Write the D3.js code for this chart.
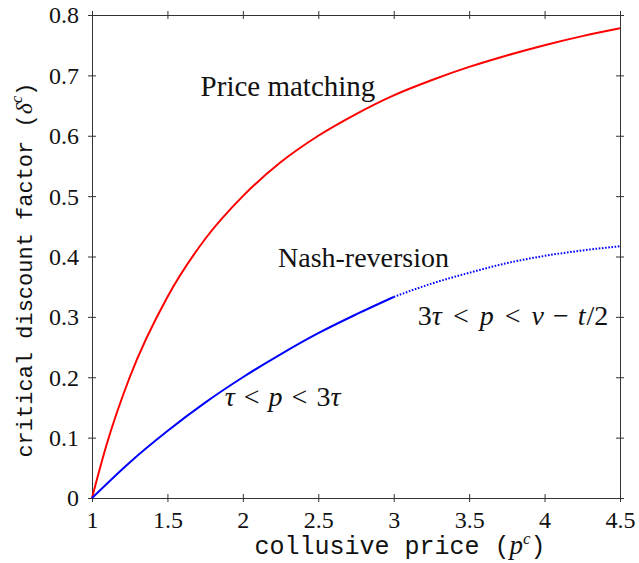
<!DOCTYPE html>
<html>
<head>
<meta charset="utf-8">
<script src="https://cdn.jsdelivr.net/npm/d3@7"></script>
<style>
  body { margin: 0; background: #fff; }
</style>
</head>
<body>
<div id="chart"></div>
<script>
var priceGrid = [1, 1.1, 1.25, 1.5, 1.75, 2, 2.25, 2.5, 2.75, 3, 3.25, 3.5, 3.75, 4, 4.25, 4.5];
var priceMatching = [0, 0.091, 0.2, 0.333, 0.429, 0.5, 0.556, 0.6, 0.636, 0.667, 0.692, 0.714, 0.733, 0.75, 0.765, 0.778];

var nashLowX = [1, 1.25, 1.5, 1.75, 2, 2.25, 2.5, 2.75, 3];
var nashLow = [0, 0.059, 0.111, 0.158, 0.2, 0.238, 0.273, 0.304, 0.333];

var nashHighX = [3, 3.25, 3.5, 3.75, 4, 4.25, 4.5];
var nashHigh = [0.333, 0.355, 0.373, 0.389, 0.401, 0.41, 0.417];

var xTicks = [1, 1.5, 2, 2.5, 3, 3.5, 4, 4.5];
var yTicks = [0, 0.1, 0.2, 0.3, 0.4, 0.5, 0.6, 0.7, 0.8];

var W = 639, H = 563;
var margin = { top: 15, right: 19, bottom: 65, left: 92 };
var SERIF = "Liberation Serif";
var MONO = "Liberation Mono";

var svg = d3.select("#chart").append("svg")
  .attr("width", W)
  .attr("height", H);

var x = d3.scaleLinear().domain([1, 4.5]).range([margin.left, W - margin.right]);
var y = d3.scaleLinear().domain([0, 0.8]).range([H - margin.bottom, margin.top]);

/*------------------ axes, ticks on all four sides ------------------*/
function fmt(d) { return d3.format("")(d); }

var gx = svg.append("g").attr("transform", "translate(0," + y(0) + ")")
  .call(d3.axisBottom(x).tickValues(xTicks).tickFormat(fmt).tickSize(4).tickPadding(0));
gx.attr("font-family", SERIF).attr("font-size", 24);
gx.selectAll("text")
  .attr("fill", "#111")
  .attr("dy", null)
  .attr("y", 30);

var gy = svg.append("g").attr("transform", "translate(" + x(1) + ",0)")
  .call(d3.axisLeft(y).tickValues(yTicks).tickFormat(fmt).tickSize(4).tickPadding(0));
gy.attr("font-family", SERIF).attr("font-size", 24);
gy.selectAll("text")
  .attr("fill", "#111")
  .attr("x", -13)
  .attr("dy", "0.33em");

// inward halves and the top / right sides
svg.append("g").attr("transform", "translate(0," + y(0) + ")")
  .call(d3.axisBottom(x).tickValues(xTicks).tickFormat("").tickSize(-4));
svg.append("g").attr("transform", "translate(0," + y(0.8) + ")")
  .call(d3.axisTop(x).tickValues(xTicks).tickFormat("").tickSize(4));
svg.append("g").attr("transform", "translate(0," + y(0.8) + ")")
  .call(d3.axisTop(x).tickValues(xTicks).tickFormat("").tickSize(-4));
svg.append("g").attr("transform", "translate(" + x(1) + ",0)")
  .call(d3.axisLeft(y).tickValues(yTicks).tickFormat("").tickSize(-4));
svg.append("g").attr("transform", "translate(" + x(4.5) + ",0)")
  .call(d3.axisRight(y).tickValues(yTicks).tickFormat("").tickSize(4));
svg.append("g").attr("transform", "translate(" + x(4.5) + ",0)")
  .call(d3.axisRight(y).tickValues(yTicks).tickFormat("").tickSize(-4));

svg.selectAll(".domain, .tick line").attr("stroke", "#333").attr("stroke-width", 1);

/*------------------ curves ------------------*/
var line = d3.line()
  .x(function(d) { return x(d[0]); })
  .y(function(d) { return y(d[1]); })
  .curve(d3.curveMonotoneX);

svg.append("path")
  .datum(d3.zip(priceGrid, priceMatching))
  .attr("d", line)
  .attr("fill", "none")
  .attr("stroke", "#ff0000")
  .attr("stroke-width", 2);

svg.append("path")
  .datum(d3.zip(nashLowX, nashLow))
  .attr("d", line)
  .attr("fill", "none")
  .attr("stroke", "#0000ff")
  .attr("stroke-width", 2);

svg.append("path")
  .datum(d3.zip(nashHighX, nashHigh))
  .attr("d", line)
  .attr("fill", "none")
  .attr("stroke", "#0000ff")
  .attr("stroke-width", 2)
  .attr("stroke-dasharray", "1.6,1.6");

/*------------------ labels ------------------*/
function serifText(px, py, size) {
  return svg.append("text")
    .attr("font-family", SERIF)
    .attr("font-size", size)
    .attr("fill", "#111")
    .attr("x", px)
    .attr("y", py);
}

serifText(x(1.72), y(0.666), 29).text("Price matching");
serifText(x(2.233), y(0.383), 28).text("Nash-reversion");

// math labels built from italic / upright pieces
function mathLabel(px, py, parts) {
  var t = serifText(px, py, 28);
  parts.forEach(function(p) {
    t.append("tspan")
      .attr("font-style", p[1] ? "italic" : "normal")
      .attr("dx", p[2] || 0)
      .text(p[0]);
  });
}

mathLabel(x(1.88), y(0.152), [
  ["τ", 1], ["<", 0, 9], ["p", 1, 9], ["<", 0, 9], ["3", 0, 9], ["τ", 1]
]);
mathLabel(x(3.16), y(0.2865), [
  ["3", 0], ["τ", 1], ["<", 0, 11], ["p", 1, 11], ["<", 0, 11], ["v", 1, 11],
  ["−", 0, 9], ["t", 1, 9], ["/2", 0, 1]
]);

// axis titles
function monoTitle(g, size, words, sym) {
  var t = g.append("text")
    .attr("font-family", MONO)
    .attr("font-size", size)
    .attr("fill", "#111")
    .attr("text-anchor", "middle");
  t.append("tspan").text(words + " (");
  t.append("tspan").attr("font-family", SERIF).attr("font-style", "italic").attr("font-size", size + 2).text(sym);
  t.append("tspan").attr("font-family", SERIF).attr("font-style", "italic").attr("font-size", 17).attr("dy", -10).text("c");
  t.append("tspan").attr("dy", 10).text(")");
}

monoTitle(svg.append("g").attr("transform", "translate(400,554)"), 25, "collusive price", "p");
monoTitle(svg.append("g").attr("transform", "translate(32,270) rotate(-90)"), 22, "critical discount factor", "δ");
</script>
</body>
</html>
